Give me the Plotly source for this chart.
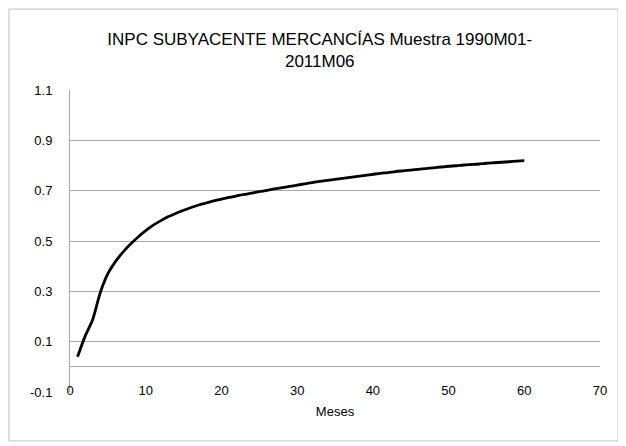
import plotly.graph_objects as go

meses = list(range(1, 61))
valores = [
    0.040, 0.122, 0.188, 0.295, 0.370, 0.418, 0.456, 0.488, 0.516, 0.541,
    0.563, 0.581, 0.597, 0.610, 0.622, 0.633, 0.643, 0.651, 0.659, 0.666,
    0.673, 0.679, 0.685, 0.690, 0.696, 0.701, 0.707, 0.712, 0.717, 0.722,
    0.727, 0.732, 0.737, 0.741, 0.745, 0.749, 0.753, 0.757, 0.761, 0.765,
    0.769, 0.772, 0.776, 0.779, 0.782, 0.785, 0.788, 0.791, 0.794, 0.797,
    0.799, 0.802, 0.804, 0.806, 0.809, 0.811, 0.813, 0.815, 0.817, 0.819,
]
y_ticks = [-0.1, 0.1, 0.3, 0.5, 0.7, 0.9, 1.1]
x_ticks = [0, 10, 20, 30, 40, 50, 60, 70]
titulo = "INPC SUBYACENTE MERCANCÍAS Muestra 1990M01-<br>2011M06"

FONT = "Liberation Sans"
GRID = "#A6A6A6"

fig = go.Figure()
fig.add_trace(go.Scatter(
    x=meses, y=valores, mode="lines",
    line=dict(color="black", width=2.8, shape="spline", smoothing=0.8),
    showlegend=False, hoverinfo="skip",
))

fig.update_layout(
    width=626, height=446,
    margin=dict(l=62, r=34, t=82, b=62),
    paper_bgcolor="white", plot_bgcolor="white",
    font=dict(family=FONT, size=13, color="black"),
    title=dict(text=titulo, x=0.498, xanchor="center", y=0.917, yanchor="middle",
               font=dict(family=FONT, size=17, color="black")),
    xaxis=dict(
        range=[0, 70], tickvals=x_ticks, ticktext=[str(v) for v in x_ticks],
        showgrid=False, zeroline=True, zerolinecolor=GRID, zerolinewidth=1,
        showline=False, ticks="", ticklabelstandoff=-11,
        title=dict(text="Meses", font=dict(family=FONT, size=13), standoff=9),
        tickfont=dict(family=FONT, size=13),
    ),
    yaxis=dict(
        range=[-0.1, 1.1], tickvals=y_ticks, ticktext=[f"{v:.1f}" for v in y_ticks],
        showgrid=True, gridcolor=GRID, gridwidth=1,
        zeroline=True, zerolinecolor=GRID, zerolinewidth=1,
        showline=True, linecolor=GRID, linewidth=1,
        ticks="", ticklabelstandoff=14,
        tickfont=dict(family=FONT, size=13),
    ),
    shapes=[dict(type="rect", xref="paper", yref="paper",
                 x0=-0.1151, x1=1.034, y0=-0.162, y1=1.268,
                 line=dict(color="#BFBFBF", width=1), fillcolor="rgba(0,0,0,0)",
                 layer="below")],
)

fig.write_html("out.html")
